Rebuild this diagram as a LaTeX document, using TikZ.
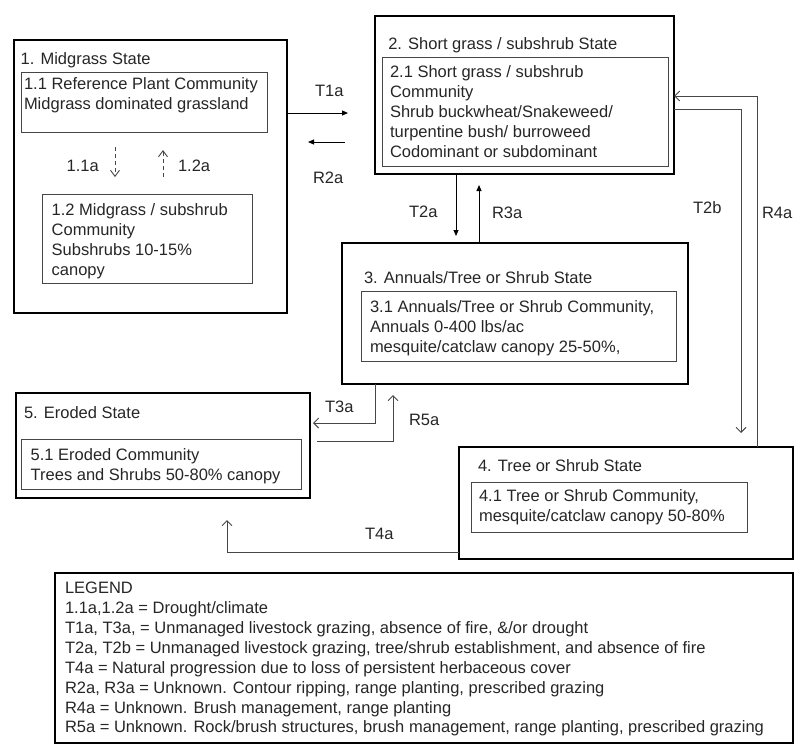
\documentclass[tikz,border=0pt]{standalone}
\usepackage{fontspec}
\setmainfont{Liberation Sans}
\usetikzlibrary{arrows.meta}
\definecolor{lgray}{RGB}{70,70,70}
\tikzset{
  outerbox/.style={draw=black, line width=2.2pt, inner sep=0pt, outer sep=0pt},
  innerbox/.style={draw=lgray, line width=1pt, inner sep=0pt, outer sep=0pt},
  legendbox/.style={draw=black, line width=2pt, inner sep=0pt, outer sep=0pt},
  txt/.style={inner sep=0pt, outer sep=0pt, anchor=north west, align=left, font=\fontsize{16.5}{20}\selectfont, text=black!85},
  lbl/.style={inner sep=0pt, outer sep=0pt, anchor=base west, font=\fontsize{16.5}{20}\selectfont, text=black!85},
  blk/.style={draw=black, line width=1pt, -{Triangle[length=6pt,width=5pt]}},
  thin/.style={draw=lgray, line width=0.9pt, -{Straight Barb[length=5pt,width=10pt]}},
  dsh/.style={draw=lgray, line width=0.9pt, dash pattern=on 4pt off 3pt, -{Straight Barb[length=6pt,width=9pt]}}
}
\begin{document}
\begin{tikzpicture}[x=1pt,y=-1pt]
\useasboundingbox (0,0) rectangle (800,750);
% ---------- State boxes (outer) ----------
\node[outerbox, minimum width=273pt, minimum height=273pt] (s1) at (150.5,176.5) {};
\node[outerbox, minimum width=299pt, minimum height=158pt] (s2) at (524.5,95) {};
\node[outerbox, minimum width=346pt, minimum height=141pt] (s3) at (515,313.5) {};
\node[outerbox, minimum width=334pt, minimum height=112pt] (s4) at (626,503) {};
\node[outerbox, minimum width=294pt, minimum height=105pt] (s5) at (163,445.5) {};
\node[legendbox, minimum width=738pt, minimum height=170pt] (leg) at (424,658) {};
% ---------- Community boxes (inner) ----------
\node[innerbox, minimum width=246pt, minimum height=60pt] (c11) at (144,102) {};
\node[innerbox, minimum width=210pt, minimum height=89pt] (c12) at (147,238.5) {};
\node[innerbox, minimum width=286pt, minimum height=109pt] (c21) at (525,111.5) {};
\node[innerbox, minimum width=315pt, minimum height=70pt] (c31) at (518.5,326) {};
\node[innerbox, minimum width=276pt, minimum height=50pt] (c41) at (609,507) {};
\node[innerbox, minimum width=280pt, minimum height=50pt] (c51) at (161,464) {};
% ---------- Texts ----------
\node[txt] (s1t) at (20.7,50.5) {\strut 1. Midgrass State};
\node[txt] (c11t) at (24,75) {\strut 1.1 Reference Plant Community\\\strut Midgrass dominated grassland};
\node[txt] (c12t) at (51.7,201) {\strut 1.2 Midgrass / subshrub\\\strut Community\\\strut Subshrubs 10-15\%\\\strut canopy};
\node[txt] (s2t) at (388.3,35) {\strut 2. Short grass / subshrub State};
\node[txt] (c21t) at (390,63) {\strut 2.1 Short grass / subshrub\\\strut Community\\\strut Shrub buckwheat/Snakeweed/\\\strut turpentine bush/ burroweed\\\strut Codominant or subdominant};
\node[txt] (s3t) at (364,269) {\strut 3. Annuals/Tree or Shrub State};
\node[txt] (c31t) at (370,298) {\strut 3.1 Annuals/Tree or Shrub Community,\\\strut Annuals 0-400 lbs/ac\\\strut mesquite/catclaw canopy 25-50\%,};
\node[txt] (s4t) at (478,457.7) {\strut 4. Tree or Shrub State};
\node[txt] (c41t) at (479,487.7) {\strut 4.1 Tree or Shrub Community,\\\strut mesquite/catclaw canopy 50-80\%};
\node[txt] (s5t) at (24,404) {\strut 5. Eroded State};
\node[txt] (c51t) at (30.7,446) {\strut 5.1 Eroded Community\\\strut Trees and Shrubs 50-80\% canopy};
\node[txt, font=\fontsize{16.5}{19.85}\selectfont] (legt) at (65,580) {%
\strut LEGEND\\
\strut 1.1a,1.2a = Drought/climate\\
\strut T1a, T3a, = Unmanaged livestock grazing, absence of fire, \&/or drought\\
\strut T2a, T2b = Unmanaged livestock grazing, tree/shrub establishment, and absence of fire\\
\strut T4a = Natural progression due to loss of persistent herbaceous cover\\
\strut R2a, R3a = Unknown. Contour ripping, range planting, prescribed grazing\\
\strut R4a = Unknown. Brush management, range planting\\
\strut R5a = Unknown. Rock/brush structures, brush management, range planting, prescribed grazing};
% ---------- Connector end points ----------
\coordinate (t1aE) at (348,113);
\coordinate (r2aS) at (345,142);
\coordinate (r2aE) at (308,142);
\coordinate (t2aE) at (456,236);
\coordinate (r3aE) at (479,185);
\coordinate (t2bK) at (741,109);
\coordinate (t2bE) at (741,433);
\coordinate (r4aK) at (757,96);
\coordinate (t3aK) at (375,423);
\coordinate (t3aE) at (313,423);
\coordinate (r5aS) at (317,441);
\coordinate (r5aK) at (393,441);
\coordinate (r5aE) at (393,395);
\coordinate (t4aK) at (227,552);
\coordinate (t4aE) at (227,520);
\coordinate (d11S) at (115,147);
\coordinate (d11E) at (115,177);
\coordinate (d12S) at (163,177);
\coordinate (d12E) at (163,150);
% ---------- Connectors ----------
\draw[blk] (s1.east |- t1aE) -- (t1aE);
\draw[blk] (r2aS) -- (r2aE);
\draw[blk] (s2.south -| t2aE) -- (t2aE);
\draw[blk] (s3.north -| r3aE) -- (r3aE);
\draw[thin] (s2.east |- t2bK) -- (t2bK) -- (t2bE);
\draw[thin] (s4.north -| r4aK) -- (r4aK) -- (s2.east |- r4aK);
\draw[thin] (s3.south -| t3aK) -- (t3aK) -- (t3aE);
\draw[thin] (r5aS) -- (r5aK) -- (r5aE);
\draw[thin] (s4.west |- t4aK) -- (t4aK) -- (t4aE);
\draw[dsh] (d11S) -- (d11E);
\draw[dsh] (d12S) -- (d12E);
% ---------- Labels ----------
\node[lbl] (lT1a) at (315,96) {T1a};
\node[lbl] (lR2a) at (313,183) {R2a};
\node[lbl] (lT2a) at (409,217) {T2a};
\node[lbl] (lR3a) at (492,218) {R3a};
\node[lbl] (lT2b) at (693,213) {T2b};
\node[lbl] (lR4a) at (762,218) {R4a};
\node[lbl] (lT3a) at (325,412) {T3a};
\node[lbl] (lR5a) at (409,425) {R5a};
\node[lbl] (lT4a) at (365,539) {T4a};
\node[lbl] (l11a) at (66.7,171) {1.1a};
\node[lbl] (l12a) at (178,171) {1.2a};
\end{tikzpicture}
\end{document}
